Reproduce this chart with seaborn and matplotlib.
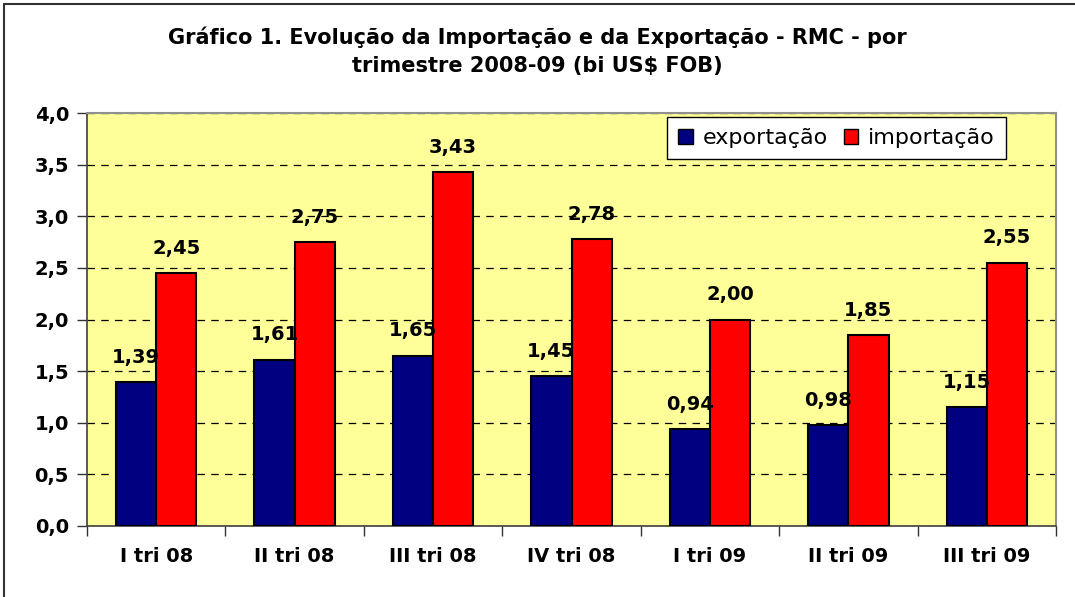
import matplotlib
matplotlib.use("Agg")
import matplotlib.pyplot as plt
import seaborn as sns
import pandas as pd
import numpy as np
from matplotlib.lines import Line2D
from matplotlib.patches import Patch
from matplotlib.ticker import FixedLocator, FuncFormatter

categories = ["I tri 08", "II tri 08", "III tri 08", "IV tri 08", "I tri 09", "II tri 09", "III tri 09"]
exportacao = [1.39, 1.61, 1.65, 1.45, 0.94, 0.98, 1.15]
importacao = [2.45, 2.75, 3.43, 2.78, 2.00, 1.85, 2.55]
series_names = ["exportação", "importação"]
colors = ["#000080", "#FF0000"]
title = "Gráfico 1. Evolução da Importação e da Exportação - RMC - por\ntrimestre 2008-09 (bi US$ FOB)"

df = pd.DataFrame({
    "cat": categories * 2,
    "serie": [series_names[0]] * len(categories) + [series_names[1]] * len(categories),
    "valor": exportacao + importacao,
})

sns.set_theme(style="white")
plt.rcParams["font.family"] = ["DejaVu Sans"]
plt.rcParams["text.color"] = "black"
plt.rcParams["xtick.color"] = "black"
plt.rcParams["ytick.color"] = "black"
plt.rcParams["axes.labelcolor"] = "black"

fig = plt.figure(figsize=(10.75, 5.97), dpi=100)
ax = fig.add_axes([87 / 1075, 1 - 526 / 597, (1056 - 87) / 1075, (526 - 113) / 597])
ax.set_facecolor("#FFFF99")

sns.barplot(data=df, x="cat", y="valor", hue="serie", order=categories,
            hue_order=series_names, palette=colors, width=0.58, dodge=True,
            edgecolor="black", linewidth=1.5, saturation=1, ax=ax, zorder=3,
            legend=False)

ax.set_ylim(0, 4.0)
ax.set_xlim(-0.5, len(categories) - 0.5)
ax.yaxis.set_major_locator(FixedLocator(np.arange(0, 4.01, 0.5)))
ax.yaxis.set_major_formatter(FuncFormatter(lambda v, p: f"{v:.1f}".replace(".", ",")))
ax.grid(axis="y", color="black", linestyle=(0, (6, 5)), linewidth=0.9, zorder=1)
ax.set_axisbelow(True)
ax.set_xlabel("")
ax.set_ylabel("")

ax.tick_params(axis="y", labelsize=14, length=7, width=1, direction="out", left=True, pad=6,
               color="#333333", labelcolor="black")
ax.tick_params(axis="x", labelsize=14, length=0, pad=15, labelcolor="black")
for lbl in ax.get_yticklabels() + ax.get_xticklabels():
    lbl.set_fontweight("bold")
# boundary ticks
ax.set_xticks(np.arange(-0.5, len(categories) + 0.5, 1.0), minor=True)
ax.tick_params(axis="x", which="minor", length=7, width=1, direction="out", bottom=True, color="#333333")

for side in ["top", "right"]:
    ax.spines[side].set_color("#909090")
    ax.spines[side].set_linewidth(1.5)
for side in ["left", "bottom"]:
    ax.spines[side].set_color("#404040")
    ax.spines[side].set_linewidth(1.2)

for cont in ax.containers:
    labels = [f"{b.get_height():.2f}".replace(".", ",") for b in cont]
    ax.bar_label(cont, labels=labels, padding=11, fontsize=14, fontweight="bold",
                 color="black", zorder=10)

handles = [Patch(facecolor=c, edgecolor="black", linewidth=1) for c in colors]
leg = ax.legend(handles, series_names, loc="upper right", bbox_to_anchor=((1006 - 87) / 969, (526 - 117) / 413),
                ncol=2, fontsize=16, frameon=True, fancybox=False, framealpha=1,
                edgecolor="black", borderaxespad=0, handlelength=0.65, handleheight=0.65,
                handletextpad=0.45, columnspacing=0.7, borderpad=0.5, labelcolor="black")
leg.get_frame().set_linewidth(1)
leg.set_zorder(20)

fig.text(0.5, 1 - 51 / 597, title, ha="center", va="center", fontsize=15,
         fontweight="bold", linespacing=1.5, color="black")

# figure border (top and left)
fig.add_artist(Line2D([4 / 1075, 1.0], [1 - 4 / 597, 1 - 4 / 597], color="#333333", linewidth=1.5, transform=fig.transFigure))
fig.add_artist(Line2D([4 / 1075, 4 / 1075], [0, 1 - 4 / 597], color="#333333", linewidth=1.5, transform=fig.transFigure))

fig.savefig("out.png", dpi=100)
